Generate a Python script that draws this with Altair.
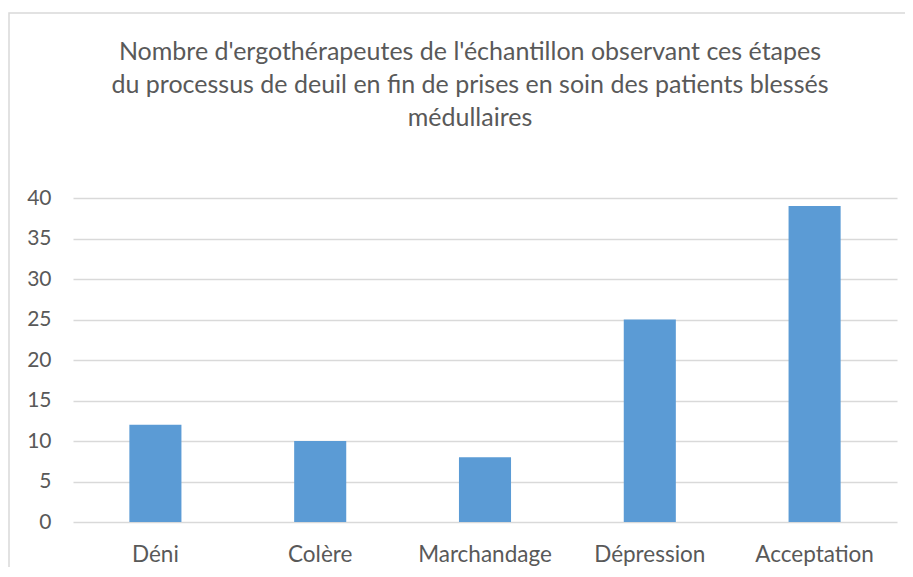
import altair as alt
import pandas as pd

categories = ["Déni", "Colère", "Marchandage", "Dépression", "Acceptation"]
values = [12, 10, 8, 25, 39]
y_ticks = [0, 5, 10, 15, 20, 25, 30, 35, 40]
title_lines = [
    "Nombre d'ergothérapeutes de l'échantillon observant ces étapes",
    "du processus de deuil en fin de prises en soin des patients blessés",
    "médullaires",
]

df = pd.DataFrame({"cat": categories, "val": values})
FONT = "Lato"
GREY = "#595959"

bars = alt.Chart(df).mark_bar(color="#5b9bd5").encode(
    x=alt.X("cat:N", sort=categories, title=None,
            scale=alt.Scale(paddingInner=0.684, paddingOuter=0.342),
            axis=alt.Axis(labelAngle=0, labelFontSize=22.5, labelColor=GREY,
                          labelFont=FONT, ticks=False, domain=False,
                          labelPadding=21)),
    y=alt.Y("val:Q", title=None,
            scale=alt.Scale(domain=[0, 40], nice=False),
            axis=alt.Axis(values=y_ticks, labelFontSize=21, labelColor=GREY,
                          labelFont=FONT, ticks=False, domain=False,
                          labelPadding=22, gridColor="#d9d9d9", gridWidth=1.3)),
)

border = alt.Chart(df).mark_rect(fill=None, stroke="#d9d9d9", strokeWidth=1.5).encode(
    x=alt.value(-64), x2=alt.value(839), y=alt.value(-185), y2=alt.value(380)
).transform_filter(alt.datum.cat == "Déni")

title_df = pd.DataFrame({"t": ["\n".join(title_lines)]})
title = alt.Chart(title_df).mark_text(
    font=FONT, fontSize=25, color=GREY, align="center", baseline="alphabetic",
    lineBreak="\n", lineHeight=33
).encode(text="t:N", x=alt.value(397), y=alt.value(-138))

chart = alt.layer(border, bars, title).properties(
    width=824, height=324,
    autosize=alt.AutoSizeParams(type="none"),
    padding={"left": 65, "top": 190, "right": 8, "bottom": 45},
).configure_view(stroke=None)

chart.save("out.html", embed_options={"renderer": "svg", "actions": False})
